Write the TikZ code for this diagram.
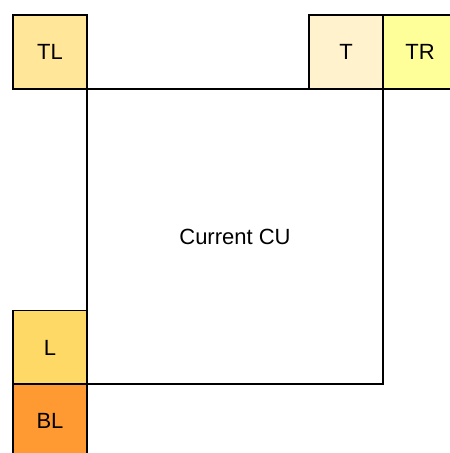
\documentclass[tikz,border=0pt]{standalone}
\usepackage{fontspec}
\setmainfont{Liberation Sans}
\definecolor{tlc}{HTML}{FFE699}
\definecolor{tc}{HTML}{FFF2CC}
\definecolor{trc}{HTML}{FFFF99}
\definecolor{lc}{HTML}{FFD966}
\definecolor{blc}{HTML}{FF9A33}
\begin{document}
\begin{tikzpicture}[x=1pt,y=-1pt,
  nb/.style={draw=black,line width=1.6pt,minimum width=74pt,minimum height=74pt,inner sep=0pt,font=\fontsize{22}{26}\selectfont},
  cu/.style={draw=black,line width=1.4pt,minimum width=296pt,minimum height=295pt,inner sep=0pt,font=\fontsize{22}{26}\selectfont}]
\useasboundingbox (0,0) rectangle (450,453);
\clip (0,0) rectangle (450,453);
\node[cu] (cu) at (235,236.5) {Current CU};
\node[nb,fill=tlc] (tl) at (50,52) {TL};
\node[nb,fill=tc] (t) at (346,52) {T};
\node[nb,fill=trc] (tr) at (420,52) {TR};
\node[nb,fill=lc] (l) at (50,347.5) {L};
\node[nb,fill=blc] (bl) at (50,421) {BL};
\end{tikzpicture}
\end{document}
